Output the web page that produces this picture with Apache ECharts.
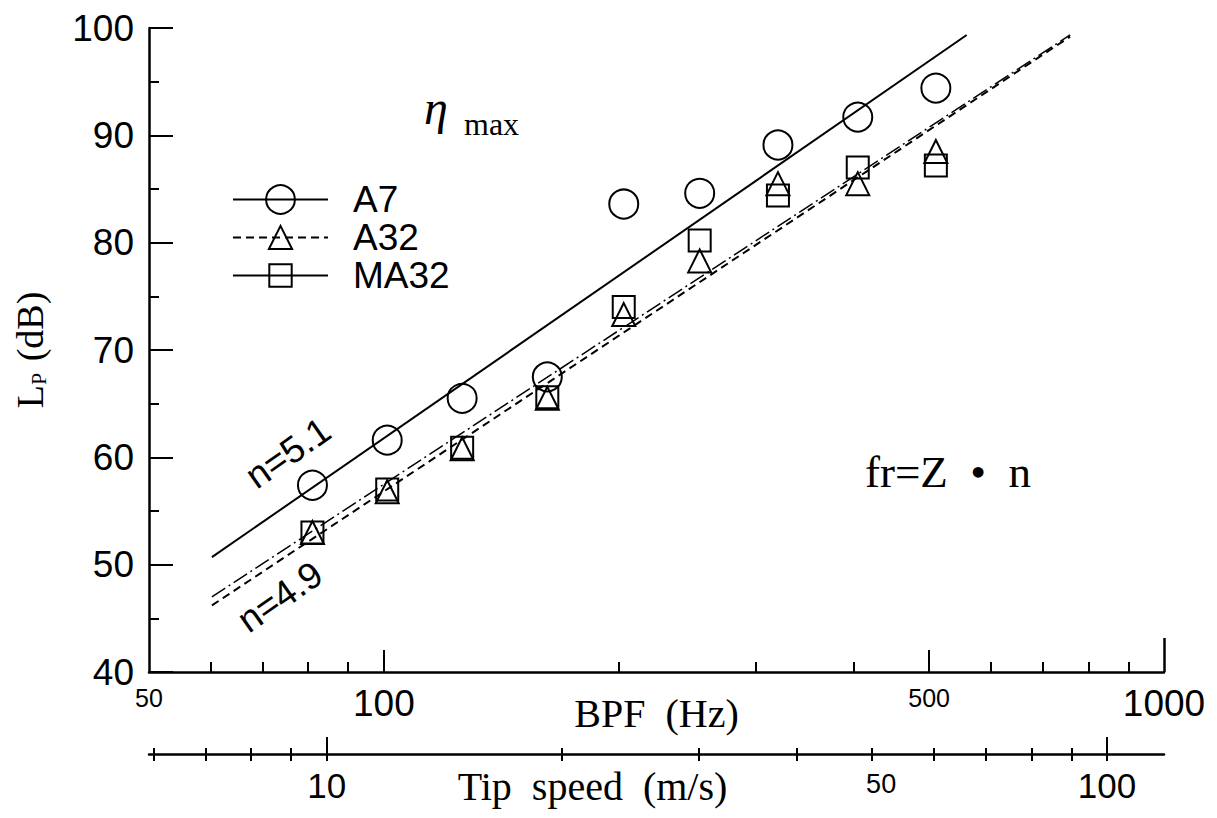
<!DOCTYPE html>
<html>
<head>
<meta charset="utf-8">
<script src="https://cdn.jsdelivr.net/npm/echarts@6/dist/echarts.min.js"></script>
<style>
  html, body { margin: 0; padding: 0; background: #fff; }
  #chart { width: 1217px; height: 818px; }
</style>
</head>
<body>
<div id="chart"></div>
<script>
// ---- data ----
const bpfFreq = [81, 101, 126, 162, 203, 254, 320, 405, 510];          // BPF (Hz)
const lpA7   = [57.4, 61.6, 65.5, 67.5, 83.6, 84.6, 89.1, 91.7, 94.4];  // dB
const lpA32  = [53.0, 56.8, 60.8, 65.5, 73.3, 78.3, 85.5, 85.5, 88.5];
const lpMA32 = [53.0, 57.0, 60.9, 65.6, 74.0, 80.2, 84.4, 87.0, 87.2];

// fitted lines (end points)
const fitBpfA7   = [60.2, 558.6];
const fitLpA7    = [50.7, 99.35];
const fitBpfA32  = [60.2, 758];
const fitLpA32   = [46.2, 99.2];
const fitBpfMA32 = [60.2, 758];
const fitLpMA32  = [47.0, 99.35];

// axes
const bpfRange = [50, 1000];
const bpfLabels = [50, 100, 500, 1000];
const bpfMajorTicks = [100, 500];
const bpfMinorTicks = [60, 70, 80, 90, 200, 300, 400, 600, 700, 800, 900];
const bpfEndTick = [1000];
const tipRange = [5.92, 118.3];
const tipLabels = [10, 50, 100];
const tipMajorTicks = [10, 100];
const tipMinorTicks = [6, 7, 8, 9, 20, 30, 40, 50, 60, 70, 80, 90];
const tipAllTicks = [6, 7, 8, 9, 10, 20, 30, 40, 50, 60, 70, 80, 90, 100];
const lpRange = [40, 100];
const lpInterval = 10;

const seriesNames = ['A7', 'A32', 'MA32'];
const annotN51 = 'n=5.1';
const annotN49 = 'n=4.9';
const annotEta = 'η';
const annotMax = 'max';
const annotFormula = 'fr=Z  •  n';

// ---- chart ----
const zip = (a, b) => a.map((v, i) => [v, b[i]]);
const SANS = 'Liberation Sans, Arial, sans-serif';
const SERIF = 'Liberation Serif, Times New Roman, serif';
const black = '#000';
const hollow = { color: 'rgba(0,0,0,0)', borderColor: black, borderWidth: 2, opacity: 1 };

function logAxisBase(extra) {
  return Object.assign({
    type: 'log', logBase: 10, gridIndex: 0, position: 'bottom',
    min: bpfRange[0], max: bpfRange[1],
    splitLine: { show: false }, minorSplitLine: { show: false },
    axisLine: { show: false },
    axisLabel: { show: false },
    nameMoveOverlap: false
  }, extra);
}

const chart = echarts.init(document.getElementById('chart'), null, { renderer: 'svg' });

const option = {
  backgroundColor: '#fff',
  animation: false,
  grid: { left: 149, right: 53, top: 28, bottom: 146, containLabel: false, outerBoundsMode: 'none' },
  xAxis: [
    logAxisBase({
      axisLine: { show: true, onZero: false, lineStyle: { color: black, width: 2.5 } },
      axisTick: { show: true, inside: true, length: 22, customValues: bpfMajorTicks, lineStyle: { color: black, width: 2 } },
      axisLabel: {
        show: true, customValues: bpfLabels, margin: 13, color: black,
        formatter: v => { const r = Math.round(v); return (r === 50 || r === 500) ? '{s|' + r + '}' : '{b|' + r + '}'; },
        rich: {
          s: { fontSize: 25, fontFamily: SANS, color: black, verticalAlign: 'top' },
          b: { fontSize: 37, fontFamily: SANS, color: black, verticalAlign: 'top' }
        }
      },
      name: 'BPF  (Hz)', nameLocation: 'middle', nameGap: 21,
      nameTextStyle: { fontFamily: SERIF, fontSize: 40, color: black, verticalAlign: 'top' }
    }),
    logAxisBase({
      axisTick: { show: true, inside: true, length: 10, customValues: bpfMinorTicks, lineStyle: { color: black, width: 2 } }
    }),
    logAxisBase({
      axisTick: { show: true, inside: true, length: 34, customValues: bpfEndTick, lineStyle: { color: black, width: 2.5 } }
    }),
    logAxisBase({
      min: tipRange[0], max: tipRange[1], offset: 82,
      axisLine: { show: true, onZero: false, lineStyle: { color: black, width: 2.5 } },
      axisTick: { show: true, inside: true, length: 17, customValues: tipMajorTicks, lineStyle: { color: black, width: 2 } },
      axisLabel: {
        show: true, customValues: tipLabels, margin: 14, color: black,
        formatter: v => { const r = Math.round(v); return r === 50 ? '{s|' + r + '}' : '{b|' + r + '}'; },
        rich: {
          s: { fontSize: 27, fontFamily: SANS, color: black, verticalAlign: 'top', padding: [2, 0, 0, 18] },
          b: { fontSize: 35, fontFamily: SANS, color: black, verticalAlign: 'top' }
        }
      },
      name: 'Tip  speed  (m/s)', nameLocation: 'middle', nameGap: 12,
      nameTextStyle: { fontFamily: SERIF, fontSize: 40, color: black, verticalAlign: 'top', padding: [0, 128, 0, 0] }
    }),
    logAxisBase({
      min: tipRange[0], max: tipRange[1], offset: 82,
      axisTick: { show: true, inside: true, length: 6, customValues: tipMinorTicks, lineStyle: { color: black, width: 2 } }
    }),
    logAxisBase({
      min: tipRange[0], max: tipRange[1], offset: 82,
      axisTick: { show: true, inside: false, length: 7, customValues: tipAllTicks, lineStyle: { color: black, width: 2 } }
    })
  ],
  yAxis: {
    type: 'value', min: lpRange[0], max: lpRange[1], interval: lpInterval,
    splitLine: { show: false },
    axisLine: { show: true, onZero: false, lineStyle: { color: black, width: 2.5 } },
    axisTick: { show: true, inside: true, length: 24, lineStyle: { color: black, width: 2 } },
    minorTick: { show: true, splitNumber: 2, length: 10, lineStyle: { color: black, width: 2 } },
    axisLabel: { margin: 15, fontSize: 37, fontFamily: SANS, color: black },
    name: '{l|L}{p|P}{l| (dB)}', nameLocation: 'middle', nameRotate: 90, nameGap: 100,
    nameMoveOverlap: false,
    nameTextStyle: {
      rich: {
        l: { fontFamily: SERIF, fontSize: 38, color: black },
        p: { fontFamily: SERIF, fontSize: 22, color: black, verticalAlign: 'bottom', padding: [0, 2, 0, 0] }
      }
    }
  },
  legend: [
    { data: [{ name: seriesNames[0] }], left: 227, top: 176, itemWidth: 95, itemHeight: 36, selectedMode: false,
      textStyle: { fontSize: 37, fontFamily: SANS, color: black, padding: [0, 0, 0, 20] } },
    { data: [{ name: seriesNames[1] }], left: 227, top: 214, itemWidth: 95, itemHeight: 29, selectedMode: false,
      textStyle: { fontSize: 37, fontFamily: SANS, color: black, padding: [0, 0, 0, 20] } },
    { data: [{ name: seriesNames[2], lineStyle: { type: 'solid', width: 2 } }], left: 227, top: 252, itemWidth: 95, itemHeight: 28, selectedMode: false,
      textStyle: { fontSize: 37, fontFamily: SANS, color: black, padding: [0, 0, 0, 20] } }
  ],
  series: [
    { name: seriesNames[0], type: 'line', xAxisIndex: 0, data: zip(fitBpfA7, fitLpA7),
      showSymbol: false, symbol: 'circle', symbolSize: 29, itemStyle: hollow,
      lineStyle: { color: black, width: 2, type: 'solid', opacity: 1 }, silent: true },
    { name: seriesNames[1], type: 'line', xAxisIndex: 0, data: zip(fitBpfA32, fitLpA32),
      showSymbol: false, symbol: 'triangle', symbolSize: 23, itemStyle: hollow,
      lineStyle: { color: black, width: 2, type: [8, 5], opacity: 1 }, silent: true },
    { name: seriesNames[2], type: 'line', xAxisIndex: 0, data: zip(fitBpfMA32, fitLpMA32),
      showSymbol: false, symbol: 'rect', symbolSize: 22, itemStyle: hollow,
      lineStyle: { color: black, width: 1.5, type: [16, 4, 2, 4], opacity: 1 }, silent: true },
    { name: seriesNames[0], type: 'scatter', xAxisIndex: 0, data: zip(bpfFreq, lpA7),
      symbol: 'circle', symbolSize: 29, itemStyle: hollow, silent: true },
    { name: seriesNames[1], type: 'scatter', xAxisIndex: 0, data: zip(bpfFreq, lpA32),
      symbol: 'triangle', symbolSize: 23, itemStyle: hollow, silent: true },
    { name: seriesNames[2], type: 'scatter', xAxisIndex: 0, data: zip(bpfFreq, lpMA32),
      symbol: 'rect', symbolSize: 22, itemStyle: hollow, silent: true }
  ],
  graphic: [
    { type: 'text', x: 288, y: 453, rotation: 35 * Math.PI / 180,
      style: { text: annotN51, fontFamily: SANS, fontSize: 37, fill: black, align: 'center', verticalAlign: 'middle' } },
    { type: 'text', x: 280, y: 597, rotation: 35 * Math.PI / 180,
      style: { text: annotN49, fontFamily: SANS, fontSize: 37, fill: black, align: 'center', verticalAlign: 'middle' } },
    { type: 'text', x: 424, y: 131,
      style: { text: annotEta, fontFamily: SERIF, fontStyle: 'italic', fontSize: 48, fill: black, align: 'left', verticalAlign: 'bottom' } },
    { type: 'text', x: 464, y: 140,
      style: { text: annotMax, fontFamily: SERIF, fontSize: 32, fill: black, align: 'left', verticalAlign: 'bottom' } },
    { type: 'text', x: 948, y: 472,
      style: { text: annotFormula, fontFamily: SERIF, fontSize: 45, fill: black, align: 'center', verticalAlign: 'middle' } }
  ]
};
chart.setOption(option);
</script>
</body>
</html>
